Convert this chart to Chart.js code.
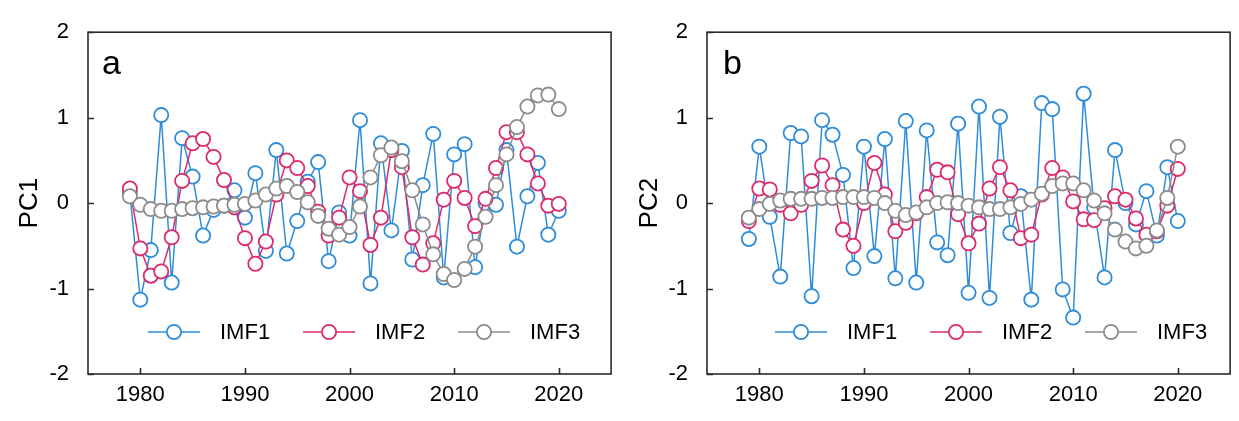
<!DOCTYPE html>
<html>
<head>
<meta charset="utf-8">
<script src="https://cdn.jsdelivr.net/npm/chart.js@4.4.1/dist/chart.umd.min.js"></script>
<style>
  body { margin: 0; background: #fff; }
  .panel { position: absolute; top: 0; height: 421px; }
  #panelA { left: 0; width: 620px; }
  #panelB { left: 620px; width: 619px; }
</style>
</head>
<body>
<div class="panel" id="panelA"><canvas id="chartA" width="620" height="421"></canvas></div>
<div class="panel" id="panelB"><canvas id="chartB" width="619" height="421"></canvas></div>
<script>
// years on the x axis
const years = [1979, 1980, 1981, 1982, 1983, 1984, 1985, 1986, 1987, 1988,
    1989, 1990, 1991, 1992, 1993, 1994, 1995, 1996, 1997, 1998,
    1999, 2000, 2001, 2002, 2003, 2004, 2005, 2006, 2007, 2008,
    2009, 2010, 2011, 2012, 2013, 2014, 2015, 2016, 2017, 2018,
    2019, 2020];

const xTickValues = [1980, 1990, 2000, 2010, 2020];
const yTickValues = [-2, -1, 0, 1, 2];
const seriesNames = ["IMF1", "IMF2", "IMF3"];

// panel a - PC1
const pc1Imf1 = [0.12, -1.13, -0.55, 1.03, -0.93, 0.76, 0.31, -0.38, -0.08, -0.03,
    0.15, -0.17, 0.35, -0.56, 0.62, -0.59, -0.21, 0.25, 0.48, -0.68,
    -0.11, -0.38, 0.97, -0.94, 0.70, -0.32, 0.61, -0.66, 0.21, 0.81,
    -0.87, 0.57, 0.69, -0.75, 0.00, -0.02, 0.62, -0.51, 0.08, 0.47,
    -0.37, -0.09];
const pc1Imf2 = [0.17, -0.53, -0.85, -0.80, -0.40, 0.26, 0.70, 0.75, 0.54, 0.27,
    -0.05, -0.41, -0.71, -0.45, 0.10, 0.50, 0.41, 0.20, -0.10, -0.38,
    -0.17, 0.30, 0.14, -0.49, -0.17, 0.62, 0.42, -0.40, -0.72, -0.47,
    0.04, 0.26, 0.06, -0.27, 0.05, 0.41, 0.83, 0.83, 0.57, 0.23,
    -0.03, -0.01];
const pc1Imf3 = [0.08, -0.02, -0.07, -0.09, -0.09, -0.07, -0.06, -0.05, -0.04, -0.03,
    -0.02, -0.01, 0.03, 0.10, 0.17, 0.20, 0.13, 0.01, -0.15, -0.30,
    -0.37, -0.28, -0.04, 0.30, 0.56, 0.65, 0.49, 0.15, -0.25, -0.60,
    -0.83, -0.90, -0.77, -0.51, -0.16, 0.21, 0.57, 0.89, 1.13, 1.26,
    1.27, 1.10];

// panel b - PC2
const pc2Imf1 = [-0.42, 0.66, -0.16, -0.86, 0.82, 0.78, -1.09, 0.97, 0.80, 0.33,
    -0.76, 0.66, -0.62, 0.75, -0.88, 0.96, -0.93, 0.85, -0.46, -0.61,
    0.93, -1.05, 1.13, -1.11, 1.01, -0.35, 0.08, -1.13, 1.17, 1.10,
    -1.01, -1.34, 1.28, -0.05, -0.87, 0.62, 0.00, -0.25, 0.14, -0.38,
    0.42, -0.21];
const pc2Imf2 = [-0.21, 0.17, 0.16, -0.02, -0.12, -0.02, 0.26, 0.44, 0.21, -0.31,
    -0.50, 0.00, 0.47, 0.10, -0.33, -0.23, -0.12, 0.07, 0.39, 0.36,
    -0.13, -0.47, -0.24, 0.17, 0.42, 0.15, -0.41, -0.37, 0.10, 0.41,
    0.30, 0.02, -0.19, -0.20, -0.06, 0.08, 0.04, -0.18, -0.37, -0.33,
    -0.03, 0.40];
const pc2Imf3 = [-0.17, -0.07, -0.01, 0.03, 0.05, 0.05, 0.05, 0.06, 0.06, 0.07,
    0.07, 0.07, 0.06, 0.00, -0.09, -0.14, -0.11, -0.05, 0.00, 0.01,
    0.00, -0.03, -0.05, -0.07, -0.07, -0.05, -0.01, 0.04, 0.11, 0.20,
    0.23, 0.23, 0.15, 0.03, -0.12, -0.31, -0.45, -0.53, -0.50, -0.32,
    0.06, 0.66];

const colors = ["#2f8cd8", "#dc2a6c", "#8c8c8c"];
const FONT = '"Liberation Sans", Arial, sans-serif';

Chart.defaults.font.family = FONT;
Chart.defaults.color = "#000";

// box, inward ticks, panel letter and the in-plot legend
const framePlugin = {
    id: "frame",
    afterDraw(chart, args, opts) {
        const { ctx, chartArea: a, scales } = chart;
        ctx.save();
        ctx.strokeStyle = "#2b2b2b";
        ctx.lineWidth = 1.6;
        ctx.strokeRect(a.left, a.top, a.right - a.left, a.bottom - a.top);

        ctx.beginPath();
        scales.x.ticks.forEach(t => {
            const px = Math.round(scales.x.getPixelForValue(t.value)) + 0.5;
            ctx.moveTo(px, a.bottom);
            ctx.lineTo(px, a.bottom - 6);
        });
        scales.y.ticks.forEach(t => {
            const py = Math.round(scales.y.getPixelForValue(t.value)) + 0.5;
            ctx.moveTo(a.left, py);
            ctx.lineTo(a.left + 6, py);
        });
        ctx.stroke();

        ctx.fillStyle = "#000";
        ctx.font = "34px " + FONT;
        ctx.textBaseline = "alphabetic";
        ctx.fillText(opts.letter, a.left + opts.letterX, a.top + 42);

        // legend
        const ly = a.bottom - 42;
        ctx.font = "22px " + FONT;
        ctx.textBaseline = "middle";
        chart.data.datasets.forEach((ds, i) => {
            const lx = a.left + opts.legendX + i * 155;
            ctx.strokeStyle = ds.borderColor;
            ctx.lineWidth = ds.borderWidth;
            ctx.beginPath();
            ctx.moveTo(lx, ly);
            ctx.lineTo(lx + 52, ly);
            ctx.stroke();
            ctx.beginPath();
            ctx.arc(lx + 26, ly, ds.pointRadius, 0, Math.PI * 2);
            ctx.fillStyle = "#fff";
            ctx.fill();
            ctx.lineWidth = ds.pointBorderWidth;
            ctx.stroke();
            ctx.fillStyle = "#000";
            ctx.fillText(ds.label, lx + 72, ly + 1);
        });
        ctx.restore();
    }
};

function makeDataset(label, values, color, order) {
    return {
        label: label,
        data: values.map((v, i) => ({ x: years[i], y: v })),
        borderColor: color,
        borderWidth: 1.5,
        pointRadius: 7.1,
        pointBorderWidth: 1.8,
        pointBackgroundColor: "#fff",
        pointBorderColor: color,
        order: order
    };
}

function makeChart(canvasId, title, series, letter, yWidth, legendX, letterX) {
    const ctx = document.getElementById(canvasId);
    return new Chart(ctx, {
        type: "line",
        data: {
            datasets: series.map((vals, i) => makeDataset(seriesNames[i], vals, colors[i], 3 - i))
        },
        options: {
            responsive: false,
            animation: false,
            layout: { padding: { left: 0, right: 5, top: 20, bottom: 0 } },
            plugins: {
                legend: { display: false },
                tooltip: { enabled: false },
                frame: { letter: letter, legendX: legendX, letterX: letterX }
            },
            scales: {
                x: {
                    type: "linear",
                    min: 1975,
                    max: 2025,
                    afterBuildTicks: s => { s.ticks = xTickValues.map(v => ({ value: v })); },
                    afterFit: s => { s.height = 47; },
                    border: { display: false },
                    grid: { display: false, drawTicks: false },
                    ticks: {
                        padding: 8,
                        maxRotation: 0,
                        font: { size: 22 },
                        callback: v => String(v)
                    }
                },
                y: {
                    min: -2,
                    max: 2,
                    afterBuildTicks: s => { s.ticks = yTickValues.map(v => ({ value: v })); },
                    afterFit: s => { s.width = yWidth; },
                    border: { display: false },
                    grid: { display: false, drawTicks: false },
                    ticks: {
                        padding: 19,
                        font: { size: 22 },
                        callback: v => String(v)
                    },
                    title: {
                        display: true,
                        text: title,
                        font: { size: 26 },
                        padding: { top: 14, bottom: 0 }
                    }
                }
            }
        },
        plugins: [framePlugin]
    });
}

makeChart("chartA", "PC1", [pc1Imf1, pc1Imf2, pc1Imf3], "a", 88, 60, 14);
makeChart("chartB", "PC2", [pc2Imf1, pc2Imf2, pc2Imf3], "b", 87, 68, 16);
</script>
</body>
</html>
